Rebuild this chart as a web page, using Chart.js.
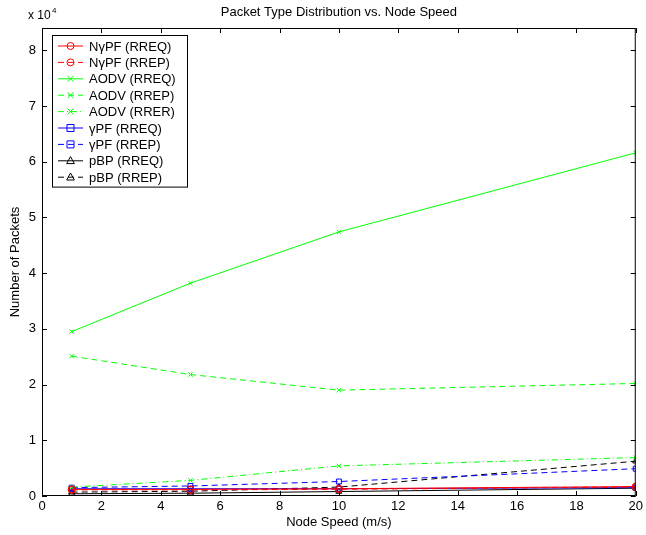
<!DOCTYPE html>
<html>
<head>
<meta charset="utf-8">
<script src="https://cdn.jsdelivr.net/npm/chart.js@4.4.0/dist/chart.umd.min.js"></script>
<style>
  body { margin: 0; background: #fff; }
  #wrap { width: 646px; height: 535px; }
</style>
</head>
<body>
<div id="wrap"><canvas id="chart" width="646" height="535"></canvas></div>
<script>
// node speeds (m/s)
const speeds = [1, 5, 10, 20];

// packet counts
const ngpfRreq = [1200, 1200, 1300, 1700];
const ngpfRrep = [1100, 1100, 1200, 1600];
const aodvRreq = [29500, 38200, 47400, 61600];
const aodvRrep = [25100, 21800, 19000, 20200];
const aodvRrer = [1600, 2800, 5400, 6900];
const gpfRreq = [1300, 1300, 1300, 1500];
const gpfRrep = [1500, 1800, 2600, 4900];
const pbpRreq = [400, 500, 800, 1400];
const pbpRrep = [700, 850, 1600, 6250];

const xTicks = [0, 2, 4, 6, 8, 10, 12, 14, 16, 18, 20];
const yTicks = [0, 10000, 20000, 30000, 40000, 50000, 60000, 70000, 80000];

const FONT = 'Liberation Sans, Arial, sans-serif';
const FS = 13;

function series(label, values, color, marker, dash) {
    return {
        label: label,
        data: speeds.map((s, i) => ({ x: s, y: values[i] })),
        borderColor: color,
        backgroundColor: 'transparent',
        borderWidth: 1,
        borderDash: dash,
        pointStyle: marker,
        pointRadius: marker === 'crossRot' ? 3 : 3.5,
        pointBorderColor: color,
        pointBackgroundColor: 'transparent',
        pointBorderWidth: 1,
        tension: 0
    };
}

const SOLID = [];
const DASHED = [6, 4];
const DASHDOT = [6, 3, 1, 3];

const datasets = [
    series('N\u03b3PF (RREQ)', ngpfRreq, '#ff0000', 'circle', SOLID),
    series('N\u03b3PF (RREP)', ngpfRrep, '#ff0000', 'circle', DASHED),
    series('AODV (RREQ)', aodvRreq, '#00ff00', 'crossRot', SOLID),
    series('AODV (RREP)', aodvRrep, '#00ff00', 'crossRot', DASHED),
    series('AODV (RRER)', aodvRrer, '#00ff00', 'crossRot', DASHDOT),
    series('\u03b3PF (RREQ)', gpfRreq, '#0000ff', 'rect', SOLID),
    series('\u03b3PF (RREP)', gpfRrep, '#0000ff', 'rect', DASHED),
    series('pBP (RREQ)', pbpRreq, '#000000', 'triangle', SOLID),
    series('pBP (RREP)', pbpRrep, '#000000', 'triangle', DASHED)
];

function drawMarker(ctx, style, x, y, r) {
    ctx.beginPath();
    if (style === 'circle') {
        ctx.arc(x, y, r, 0, Math.PI * 2);
    } else if (style === 'rect') {
        ctx.rect(x - r, y - r, r * 2, r * 2);
    } else if (style === 'triangle') {
        ctx.moveTo(x, y - r * 1.2);
        ctx.lineTo(x + r * 1.1, y + r * 0.8);
        ctx.lineTo(x - r * 1.1, y + r * 0.8);
        ctx.closePath();
    } else {
        ctx.moveTo(x - r, y - r); ctx.lineTo(x + r, y + r);
        ctx.moveTo(x + r, y - r); ctx.lineTo(x - r, y + r);
    }
    ctx.stroke();
}

// frame, inward ticks, title, exponent and legend, MATLAB style
const matlabLook = {
    id: 'matlabLook',
    afterDraw(chart) {
        const ctx = chart.ctx;
        const a = chart.chartArea;
        const xs = chart.scales.x, ys = chart.scales.y;
        ctx.save();
        ctx.strokeStyle = '#000';
        ctx.lineWidth = 1;
        ctx.setLineDash([]);
        ctx.strokeRect(a.left + 0.5, a.top + 0.5, a.right - a.left - 1, a.bottom - a.top - 1);
        const tl = 5;
        ctx.beginPath();
        xTicks.forEach(v => {
            const px = Math.round(xs.getPixelForValue(v)) + 0.5;
            ctx.moveTo(px, a.bottom); ctx.lineTo(px, a.bottom - tl);
            ctx.moveTo(px, a.top); ctx.lineTo(px, a.top + tl);
        });
        yTicks.forEach(v => {
            const py = Math.round(ys.getPixelForValue(v)) + 0.5;
            ctx.moveTo(a.left, py); ctx.lineTo(a.left + tl, py);
            ctx.moveTo(a.right, py); ctx.lineTo(a.right - tl, py);
        });
        ctx.stroke();

        // title and exponent
        ctx.fillStyle = '#000';
        ctx.font = FS + 'px ' + FONT;
        ctx.textAlign = 'center';
        ctx.textBaseline = 'middle';
        ctx.fillText('Packet Type Distribution vs. Node Speed', (a.left + a.right) / 2, 12);
        ctx.textAlign = 'left';
        ctx.font = '12px ' + FONT;
        ctx.fillText('x 10', 28, 16);
        ctx.font = '8px ' + FONT;
        ctx.fillText('4', 52, 11);

        // legend box
        const bx = 52, by = 35, bw = 135, rowH = 16.4;
        const bh = rowH * datasets.length + 4;
        ctx.fillStyle = '#fff';
        ctx.fillRect(bx, by, bw, bh);
        ctx.strokeStyle = '#000';
        ctx.strokeRect(bx + 0.5, by + 0.5, bw, bh);
        ctx.font = FS + 'px ' + FONT;
        datasets.forEach((ds, i) => {
            const y = by + 11 + i * rowH;
            ctx.strokeStyle = ds.borderColor;
            ctx.lineWidth = 1;
            ctx.setLineDash(ds.borderDash);
            ctx.beginPath();
            ctx.moveTo(bx + 6, y); ctx.lineTo(bx + 31, y);
            ctx.stroke();
            ctx.setLineDash([]);
            drawMarker(ctx, ds.pointStyle, bx + 18.5, y, ds.pointStyle === 'crossRot' ? 3 : 3.5);
            ctx.fillStyle = '#000';
            ctx.textAlign = 'left';
            ctx.fillText(ds.label, bx + 37, y + 1);
        });
        ctx.restore();
    }
};

new Chart(document.getElementById('chart'), {
    type: 'line',
    data: { datasets: datasets },
    options: {
        responsive: false,
        animation: false,
        layout: { padding: { top: 28, right: 8, left: 0, bottom: 0 } },
        plugins: {
            legend: { display: false },
            tooltip: { enabled: false }
        },
        scales: {
            x: {
                type: 'linear',
                min: 0,
                max: 20,
                afterBuildTicks: s => { s.ticks = xTicks.map(v => ({ value: v })); },
                afterFit: s => { s.height = 39; },
                grid: { display: false, drawTicks: false },
                border: { display: false },
                ticks: { color: '#000', font: { size: FS, family: FONT }, padding: 3 },
                title: { display: true, text: 'Node Speed (m/s)', color: '#000', font: { size: FS, family: FONT }, padding: { top: 0, bottom: 5 } }
            },
            y: {
                type: 'linear',
                min: 0,
                max: 84000,
                afterBuildTicks: s => { s.ticks = yTicks.map(v => ({ value: v })); },
                afterFit: s => { s.width = 42; },
                grid: { display: false, drawTicks: false },
                border: { display: false },
                ticks: {
                    color: '#000',
                    font: { size: FS, family: FONT },
                    padding: 6,
                    callback: v => v / 10000
                },
                title: { display: true, text: 'Number of Packets', color: '#000', font: { size: FS, family: FONT }, padding: { top: 8, bottom: 0 } }
            }
        }
    },
    plugins: [matlabLook]
});
</script>
</body>
</html>
